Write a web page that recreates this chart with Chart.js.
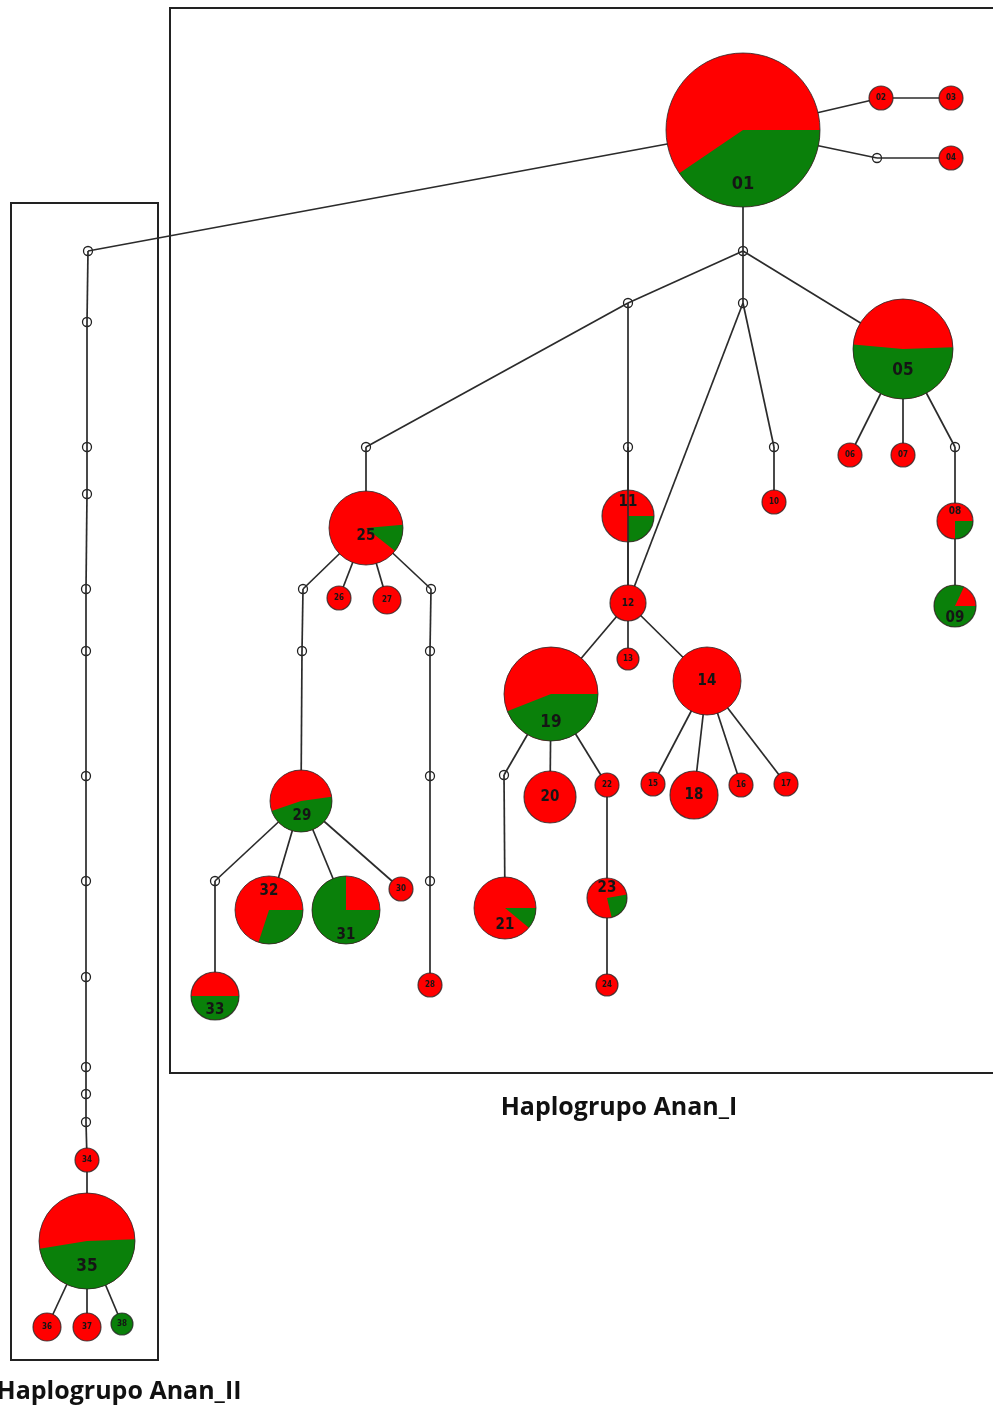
<!DOCTYPE html>
<html>
<head>
<meta charset="utf-8">
<script src="https://cdn.jsdelivr.net/npm/chart.js@4/dist/chart.umd.min.js"></script>
<style>
  html, body { margin: 0; padding: 0; background: #fff; }
  #net { display: block; }
</style>
</head>
<body>
<canvas id="net" width="993" height="1408"></canvas>
<script>
// haplotypes: id, share of green (second group), layout position and size
const haplotypes = ['01','02','03','04','05','06','07','08','09','10',
  '11','12','13','14','15','16','17','18','19','20',
  '21','22','23','24','25','26','27','28','29','30',
  '31','32','33','34','35','36','37','38'];
const greenShare = [0.405,0,0,0,0.52,0,0,0.25,0.82,0,
  0.25,0,0,0,0,0,0,0,0.44,0,
  0.11,0,0.24,0,0.12,0,0,0,0.47,0,
  0.75,0.30,0.5,0,0.48,0,0,1];
const greenStart = [0,0,0,0,-2,0,0,0,0,0,
  0,0,0,0,0,0,0,0,0,0,
  0,0,-10,0,-5,0,0,0,-8,0,
  0,0,0,0,-2,0,0,0];
const nodeX = [743,881,951,951,903,850,903,955,955,774,
  628,628,628,707,653,741,786,694,551,550,
  505,607,607,607,366,339,387,430,301,401,
  346,269,215,87,87,47,87,122];
const nodeY = [130,98,98,158,349,455,455,521,606,502,
  516,603,659,681,784,785,784,795,694,797,
  908,785,898,985,528,598,600,985,801,889,
  910,910,996,1160,1241,1327,1327,1324];
const nodeR = [77,12,12,12,50,12,12,18,21,12,
  26,18,11,34,12,12,12,24,47,26,
  31,12,20,11,37,12,14,12,31,12,
  34,34,24,12,48,14,14,11];

// median vectors (unsampled haplotypes)
const medianIds = ['m01','m02','m03','m04','m05','m06','m07','m08','m09','m10',
  'm11','m12','m13','m14','m15','m16','m17','m18','m19','m20',
  'm21','m22','m23','m24','m25','m26','m27','m28'];
const medianX = [877,743,628,743,366,628,774,955,303,302,
  431,430,430,430,504,215,88,87,87,87,
  86,86,86,86,86,86,86,86];
const medianY = [158,251,303,303,447,447,447,447,589,651,
  589,651,776,881,775,881,251,322,447,494,
  589,651,776,881,977,1067,1094,1122];

const edges = [
  ['01','02'],['02','03'],['01','m01'],['m01','04'],['01','m02'],
  ['m02','m03'],['m02','m04'],['m02','05'],
  ['05','06'],['05','07'],['05','m08'],['m08','08'],['08','09'],
  ['m04','m07'],['m07','10'],['m04','12'],
  ['m03','m05'],['m05','25'],['m03','m06'],['m06','11'],['11','12'],
  ['12','19'],['12','13'],['12','14'],
  ['14','15'],['14','18'],['14','16'],['14','17'],
  ['19','m15'],['m15','21'],['19','20'],['19','22'],['22','23'],['23','24'],
  ['25','m09'],['m09','m10'],['m10','29'],['25','26'],['25','27'],
  ['25','m11'],['m11','m12'],['m12','m13'],['m13','m14'],['m14','28'],
  ['29','m16'],['m16','33'],['29','32'],['29','31'],['29','30'],
  ['01','m17'],['m17','m18'],['m18','m19'],['m19','m20'],['m20','m21'],
  ['m21','m22'],['m22','m23'],['m23','m24'],['m24','m25'],['m25','m26'],
  ['m26','m27'],['m27','m28'],['m28','34'],['34','35'],
  ['35','36'],['35','37'],['35','38']
];
// edge that runs across haplotype 11
const overEdges = [['m06','12']];

const groups = ['Haplogrupo Anan_I', 'Haplogrupo Anan_II'];

const RED = '#ff0000';
const GREEN = '#0a800a';

const pos = {};
haplotypes.forEach((id, i) => { pos[id] = { x: nodeX[i], y: nodeY[i] }; });
medianIds.forEach((id, i) => { pos[id] = { x: medianX[i], y: medianY[i] }; });

const edgeSets = edges.map(([a, b]) => ({
  data: [pos[a], pos[b]],
  showLine: true,
  borderColor: '#2b2b2b',
  borderWidth: 1.7,
  pointRadius: 0,
  clip: false,
}));

const labelShift = {
  '01': [0, 54], '05': [0, 22], '19': [0, 29], '25': [0, 8], '29': [1, 15],
  '11': [0, -14], '21': [0, 17], '23': [0, -10], '32': [0, -19],
  '31': [0, 25], '33': [0, 14], '35': [0, 26], '09': [0, 12], '08': [0, -10]
};

const networkPlugin = {
  id: 'network',
  beforeDatasetsDraw(chart) {
    const { ctx, scales: { x, y } } = chart;
    ctx.save();
    ctx.strokeStyle = '#222';
    ctx.lineWidth = 2;
    // group boxes
    const box = (x0, y0, x1, y1) => {
      const px0 = x.getPixelForValue(x0), py0 = y.getPixelForValue(y0);
      const px1 = x.getPixelForValue(x1), py1 = y.getPixelForValue(y1);
      ctx.strokeRect(px0, py0, px1 - px0, py1 - py0);
    };
    box(170, 8, 1010, 1073);
    box(11, 203, 158, 1360);
    ctx.fillStyle = '#111';
    ctx.font = 'bold 25px "Open Sans"';
    ctx.textAlign = 'center';
    ctx.textBaseline = 'middle';
    ctx.fillText(groups[0], x.getPixelForValue(619), y.getPixelForValue(1108));
    ctx.fillText(groups[1], x.getPixelForValue(119), y.getPixelForValue(1392));
    ctx.restore();
  },
  afterDatasetsDraw(chart) {
    const { ctx, scales: { x, y } } = chart;
    ctx.save();
    haplotypes.forEach((id, i) => {
      const cx = x.getPixelForValue(nodeX[i]);
      const cy = y.getPixelForValue(nodeY[i]);
      const r = x.getPixelForValue(nodeX[i] + nodeR[i]) - x.getPixelForValue(nodeX[i]);
      const g = greenShare[i];
      const a0 = greenStart[i] * Math.PI / 180;
      const a1 = a0 + g * 2 * Math.PI;
      ctx.beginPath();
      ctx.arc(cx, cy, r, 0, 2 * Math.PI);
      ctx.fillStyle = g >= 1 ? GREEN : RED;
      ctx.fill();
      if (g > 0 && g < 1) {
        ctx.beginPath();
        ctx.moveTo(cx, cy);
        ctx.arc(cx, cy, r, a0, a1);
        ctx.closePath();
        ctx.fillStyle = GREEN;
        ctx.fill();
      }
      ctx.beginPath();
      ctx.arc(cx, cy, r, 0, 2 * Math.PI);
      ctx.strokeStyle = 'rgba(40,40,40,0.8)';
      ctx.lineWidth = r > 30 ? 1 : 1.2;
      ctx.stroke();
    });
    // line drawn on top of 11
    ctx.strokeStyle = '#2b2b2b';
    ctx.lineWidth = 1.6;
    overEdges.forEach(([a, b]) => {
      ctx.beginPath();
      ctx.moveTo(x.getPixelForValue(pos[a].x), y.getPixelForValue(pos[a].y));
      ctx.lineTo(x.getPixelForValue(pos[b].x), y.getPixelForValue(pos[b].y) - 18);
      ctx.stroke();
    });
    // labels
    ctx.fillStyle = '#151515';
    ctx.textAlign = 'center';
    ctx.textBaseline = 'middle';
    haplotypes.forEach((id, i) => {
      const r = nodeR[i];
      const size = r >= 70 ? 18 : r >= 45 ? 17 : r >= 20 ? 15 : r >= 17 ? 10 : 8;
      const sh = labelShift[id] || [0, 0];
      ctx.font = 'bold ' + size + 'px "DejaVu Sans Condensed", "DejaVu Sans"';
      ctx.fillText(id, x.getPixelForValue(nodeX[i] + sh[0]), y.getPixelForValue(nodeY[i] + sh[1]));
    });
    ctx.restore();
  }
};

new Chart(document.getElementById('net'), {
  type: 'scatter',
  data: {
    datasets: [
      ...edgeSets,
      {
        label: 'median',
        data: medianIds.map(id => pos[id]),
        pointRadius: 4.5,
        pointBackgroundColor: '#fff',
        pointBorderColor: '#222',
        pointBorderWidth: 1.3,
        clip: false,
      },
    ],
  },
  options: {
    responsive: false,
    animation: false,
    layout: { padding: 0, autoPadding: false },
    plugins: { legend: { display: false }, tooltip: { enabled: false } },
    scales: {
      x: { type: 'linear', min: 0, max: 993, display: false },
      y: { type: 'linear', min: 0, max: 1408, reverse: true, display: false },
    },
  },
  plugins: [networkPlugin],
});
</script>
</body>
</html>
